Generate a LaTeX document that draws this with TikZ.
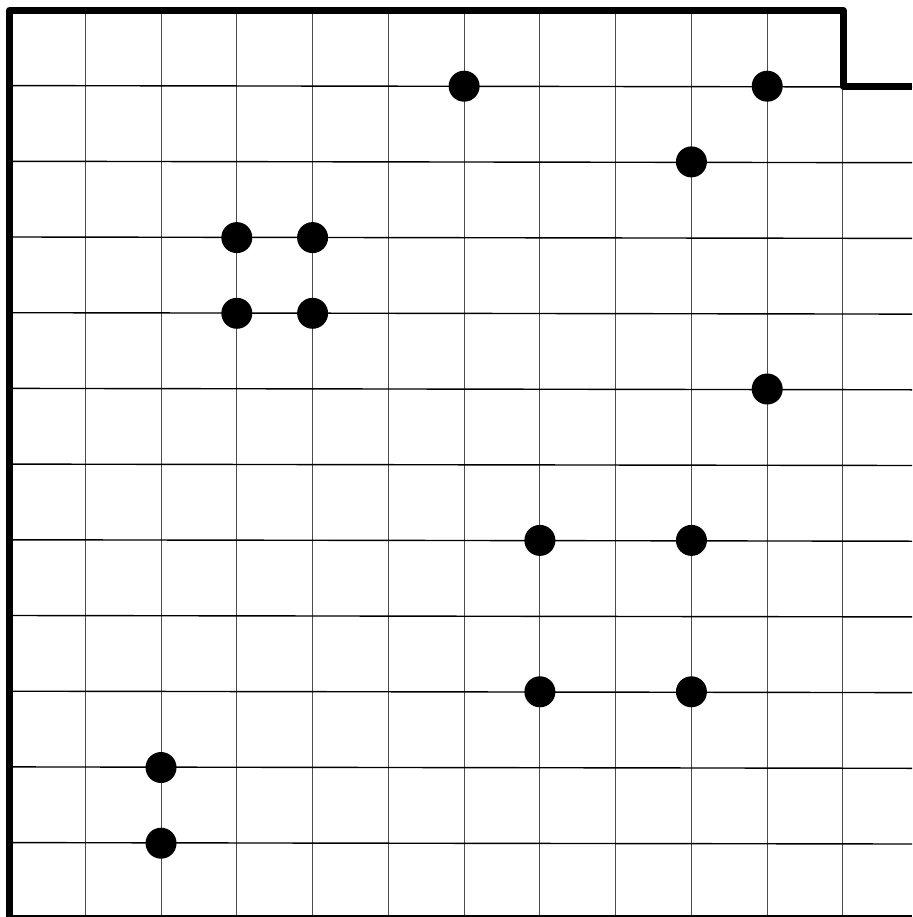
\documentclass[tikz,border=0pt]{standalone}
\begin{document}
\begin{tikzpicture}[x=1pt,y=-1pt,
  vline/.style={line width=1pt, black!70},
  hline/.style={line width=1.4pt, black},
  wall/.style={line width=7pt, black, line join=round},
  dot/.style={fill=black}]
\useasboundingbox (0,0) rectangle (912,917);
\foreach \i in {1,...,11} \draw[vline] ({9.5+75.77*\i},10.5) -- ({9.5+75.77*\i},917);
\foreach \j in {1,...,11} \draw[hline] (9.5,{10.5+75.7*\j-0.6}) -- (912,{10.5+75.7*\j+0.8});
\draw[hline] (9.5,916) -- (912,916);
\draw[wall] (9.5,917) -- (9.5,10.5) -- (843,10.5) -- (843,86.2) -- (912,86.2);
\foreach \i/\j in {6/1,10/1,9/2,3/3,4/3,3/4,4/4,10/5,7/7,9/7,7/9,9/9,2/10,2/11}
  \fill[dot] ({9.5+75.77*\i},{10.5+75.7*\j}) circle (15.5);
\end{tikzpicture}
\end{document}
